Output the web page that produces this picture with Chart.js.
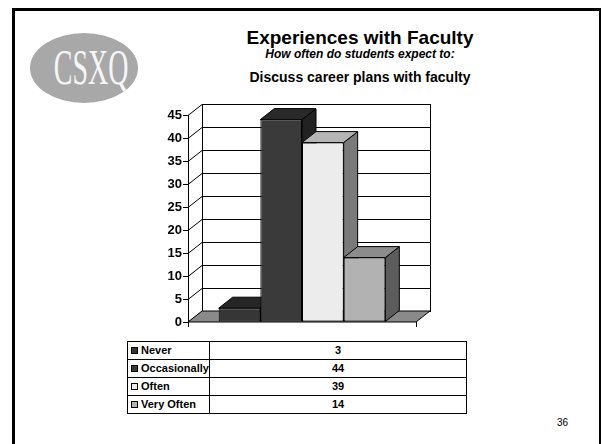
<!DOCTYPE html>
<html>
<head>
<meta charset="utf-8">
<script src="https://cdn.jsdelivr.net/npm/chart.js@4/dist/chart.umd.min.js"></script>
<style>
  body { margin: 0; width: 602px; height: 444px; background: #fff; position: relative; overflow: hidden;
         font-family: "Liberation Sans", Arial, sans-serif; }
  .frame { position: absolute; left: 12px; top: 8px; width: 584px; height: 460px;
           border-left: 3px solid #000; border-top: 3px solid #000; border-right: 2px solid #000; }
  .logo { position: absolute; left: 30px; top: 33px; width: 108px; height: 70px; border-radius: 50%;
          background: #a8a8a8; overflow: hidden; }
  .logo span { position: absolute; left: 0; width: 108px; top: 9px; text-align: center;
               font-family: "Liberation Serif", "DejaVu Serif", serif; font-size: 50px; line-height: 50px;
               color: #f6f6f6; transform: scaleX(0.56); }
  .t { position: absolute; font-weight: bold; color: #000; white-space: nowrap; text-align: center; }
  #chartBox { position: absolute; left: 130px; top: 95px; width: 330px; height: 245px; }
  table { position: absolute; left: 127px; top: 341px; width: 340px; border-collapse: collapse;
          font-size: 11px; font-weight: bold; }
  td { border: 1px solid #000; height: 17px; padding: 0 0 0 3px; line-height: 17px; }
  td.v { text-align: center; padding: 0; }
  .sw { display: inline-block; width: 7px; height: 7px; border: 1px solid #000; box-sizing: border-box;
        margin-right: 3px; vertical-align: 0px; }
  .page { position: absolute; left: 557px; top: 417px; font-size: 10px; }
</style>
</head>
<body>
<div class="frame"></div>
<div class="logo"><span>CSXQ</span></div>
<div class="t" style="left:200px;width:320px;top:27px;font-size:19px;">Experiences with Faculty</div>
<div class="t" style="left:200px;width:320px;top:47px;font-size:12px;font-style:italic;">How often do students expect to:</div>
<div class="t" style="left:200px;width:320px;top:69px;font-size:14px;">Discuss career plans with faculty</div>
<div id="chartBox"><canvas id="c"></canvas></div>
<table id="tbl"></table>
<div class="page">36</div>
<script>
// data
const series = ["Never", "Occasionally", "Often", "Very Often"];
const values = [3, 44, 39, 14];
const yTicks = [0, 5, 10, 15, 20, 25, 30, 35, 40, 45];

// colours: front, top, side
const fronts = ["#363636", "#3a3a3a", "#ececec", "#b2b2b2"];
const tops = ["#262626", "#292929", "#b5b5b5", "#8c8c8c"];
const sides = ["#1c1c1c", "#222222", "#7a7a7a", "#5c5c5c"];

const DX = 14, DY = 11;

// 3D walls, floor and bar tops / sides
const threeD = {
  id: "threeD",
  beforeDatasetsDraw(chart) {
    const ctx = chart.ctx, a = chart.chartArea, y = chart.scales.y;
    ctx.save();
    ctx.lineWidth = 1;
    ctx.strokeStyle = "#000";
    // back wall grid + left wall connectors
    yTicks.forEach(v => {
      const yy = Math.round(y.getPixelForValue(v)) + 0.5;
      ctx.beginPath();
      ctx.moveTo(a.left, yy);
      ctx.lineTo(a.left + DX, yy - DY);
      ctx.lineTo(a.right + DX, yy - DY);
      ctx.stroke();
    });
    ctx.strokeRect(Math.round(a.left + DX) + 0.5, Math.round(a.top - DY) + 0.5,
      Math.round(a.right - a.left), Math.round(a.bottom - a.top));
    // floor
    ctx.beginPath();
    ctx.moveTo(a.left, a.bottom);
    ctx.lineTo(a.right, a.bottom);
    ctx.lineTo(a.right + DX, a.bottom - DY);
    ctx.lineTo(a.left + DX, a.bottom - DY);
    ctx.closePath();
    ctx.fillStyle = "#8a8a8a";
    ctx.fill();
    ctx.stroke();
    // front floor ticks
    ctx.beginPath();
    ctx.moveTo(a.left + 0.5, a.bottom); ctx.lineTo(a.left + 0.5, a.bottom + 5);
    ctx.moveTo(a.right + 0.5, a.bottom); ctx.lineTo(a.right + 0.5, a.bottom + 5);
    ctx.stroke();
    // bar sides and tops
    chart.data.datasets.forEach((ds, i) => {
      const bar = chart.getDatasetMeta(i).data[0];
      const l = bar.x - bar.width / 2, r = bar.x + bar.width / 2, t = bar.y, b = bar.base;
      ctx.beginPath();
      ctx.moveTo(r, t); ctx.lineTo(r + DX, t - DY); ctx.lineTo(r + DX, b - DY); ctx.lineTo(r, b);
      ctx.closePath();
      ctx.fillStyle = sides[i]; ctx.fill(); ctx.stroke();
      ctx.beginPath();
      ctx.moveTo(l, t); ctx.lineTo(r, t); ctx.lineTo(r + DX, t - DY); ctx.lineTo(l + DX, t - DY);
      ctx.closePath();
      ctx.fillStyle = tops[i]; ctx.fill(); ctx.stroke();
    });
    ctx.restore();
  }
};

new Chart(document.getElementById("c"), {
  type: "bar",
  data: {
    labels: [""],
    datasets: series.map((s, i) => ({
      label: s,
      data: [values[i]],
      backgroundColor: fronts[i],
      borderColor: "#000",
      borderWidth: 1,
      borderSkipped: false
    }))
  },
  options: {
    responsive: true,
    maintainAspectRatio: false,
    animation: false,
    events: [],
    layout: { padding: { top: 20, right: 44, bottom: 18, left: 0 } },
    plugins: { legend: { display: false }, tooltip: { enabled: false } },
    datasets: { bar: { categoryPercentage: 0.731, barPercentage: 1 } },
    scales: {
      x: { display: false },
      y: {
        min: 0, max: 45,
        afterFit: s => { s.width = 58; },
        afterBuildTicks: s => { s.ticks = yTicks.map(v => ({ value: v })); },
        border: { display: true, color: "#000", width: 1 },
        grid: { drawOnChartArea: false, drawTicks: true, tickLength: 5, color: "#000" },
        ticks: { color: "#000", padding: 1, font: { family: "Liberation Sans", size: 13, weight: "bold" } }
      }
    }
  },
  plugins: [threeD]
});

// data table under the chart
const tbl = document.getElementById("tbl");
series.forEach((s, i) => {
  const tr = document.createElement("tr");
  tr.innerHTML = '<td style="width:78px"><span class="sw" style="background:' + fronts[i] + '"></span>' + s +
    '</td><td class="v">' + values[i] + '</td>';
  tbl.appendChild(tr);
});
</script>
</body>
</html>
